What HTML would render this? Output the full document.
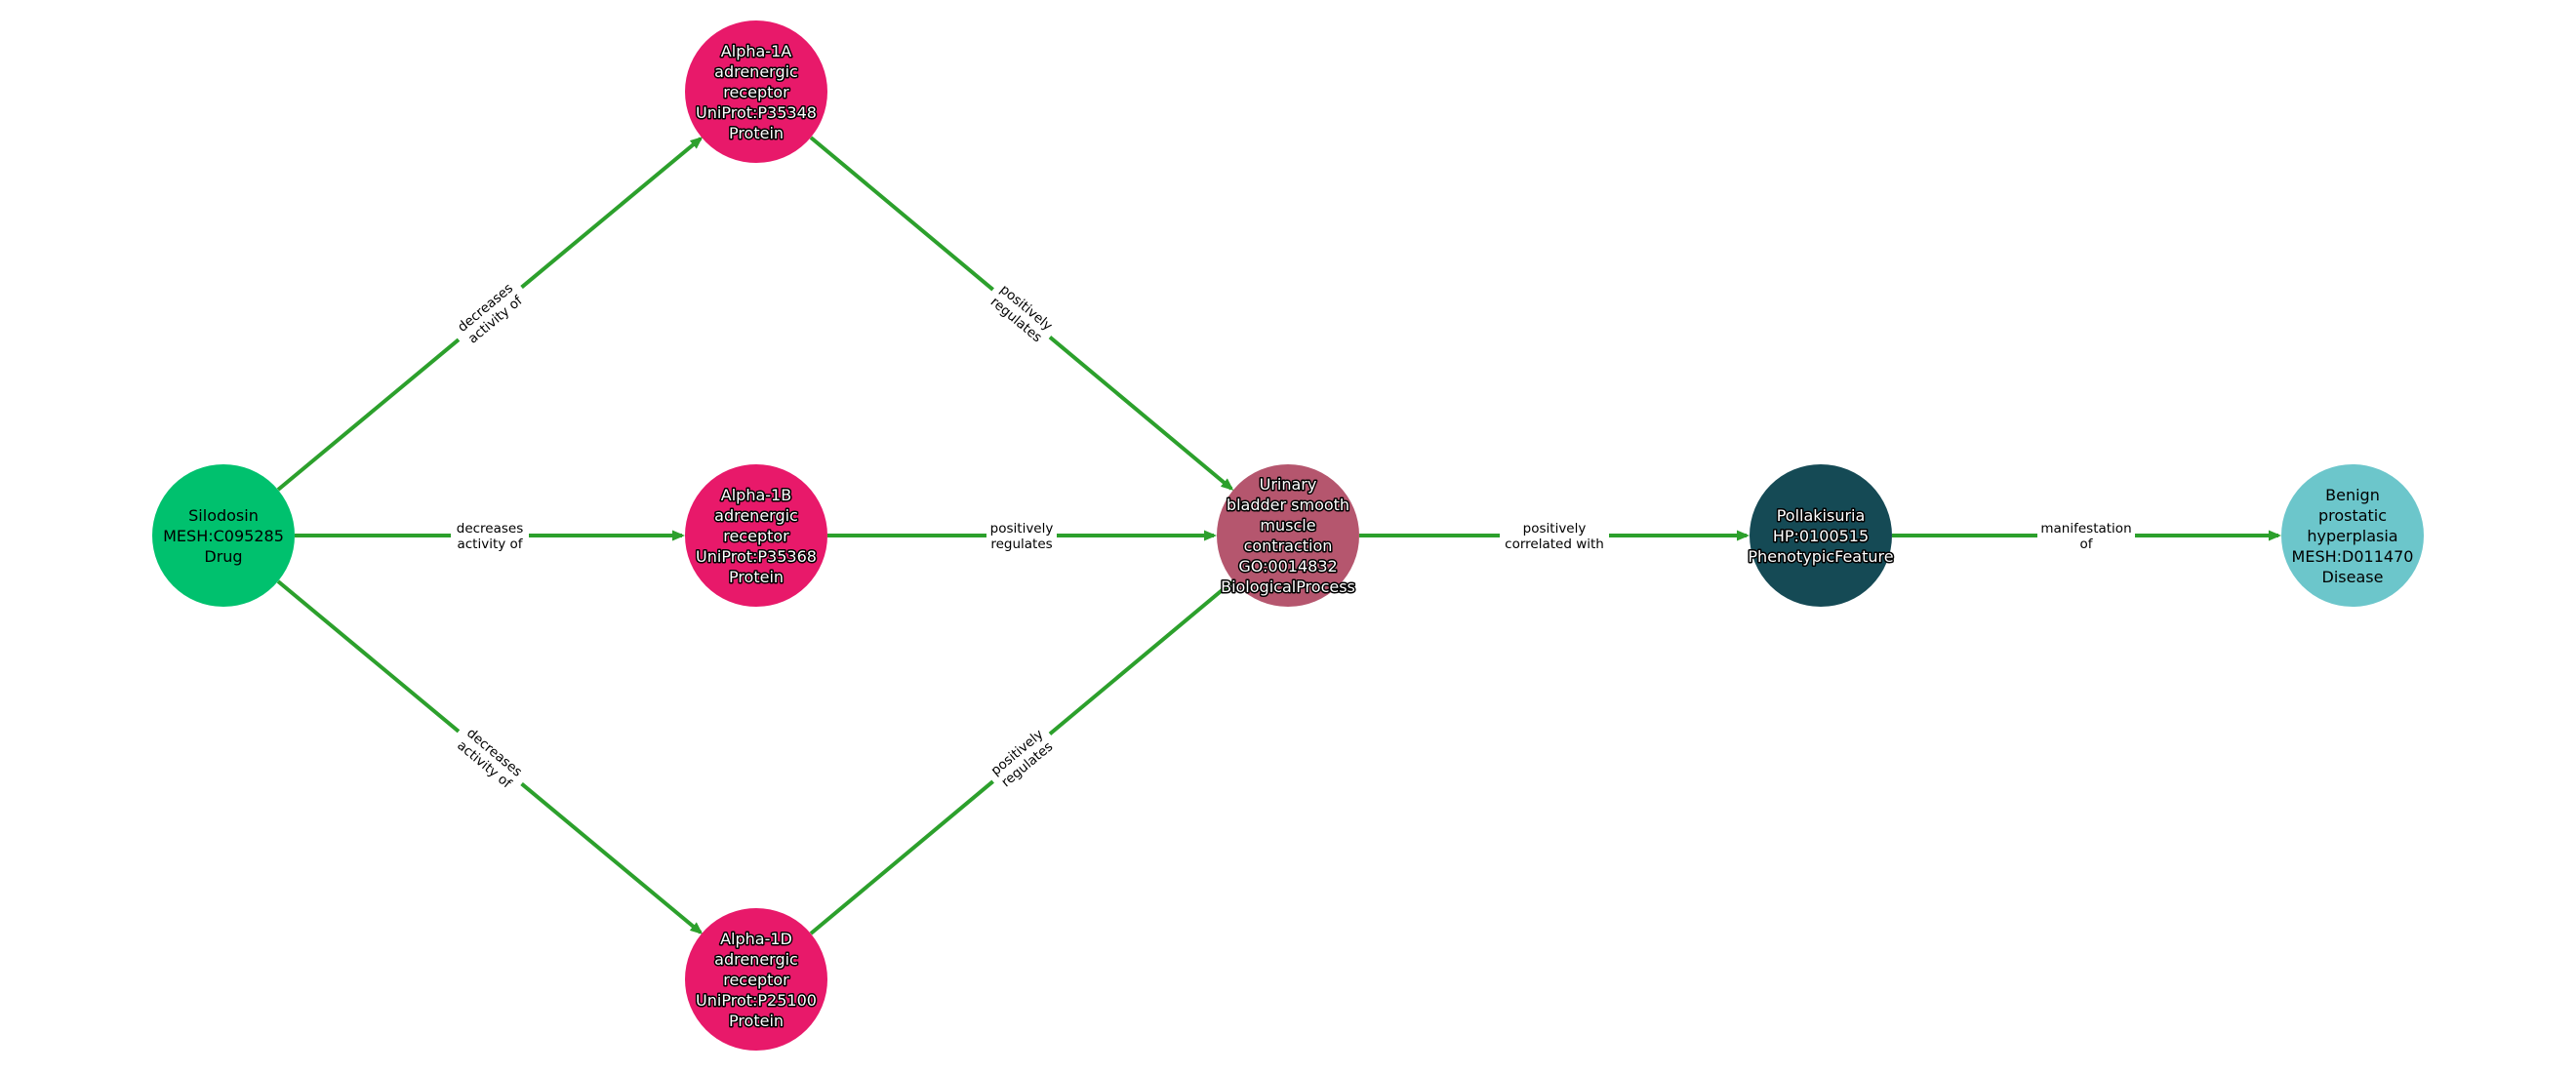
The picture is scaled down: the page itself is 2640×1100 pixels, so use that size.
<!DOCTYPE html>
<html><head><meta charset="utf-8"><style>
html,body{margin:0;padding:0;background:#fff;}
svg{display:block;}
.n{font-family:"DejaVu Sans","Liberation Sans",sans-serif;font-size:16px;text-anchor:middle;}
.w{fill:#fff;stroke:#000;stroke-width:3px;paint-order:stroke;stroke-linejoin:round;}
.b{fill:#000;}
.e{font-family:"DejaVu Sans","Liberation Sans",sans-serif;font-size:13.5px;text-anchor:middle;fill:#000;}
</style></head><body>
<svg width="2640" height="1100" viewBox="0 0 2640 1100" xmlns="http://www.w3.org/2000/svg">
<defs>
<marker id="a" markerWidth="14" markerHeight="14" refX="10" refY="7" orient="auto" markerUnits="userSpaceOnUse">
<path d="M0,1.5 L13,7 L0,12.5 z" fill="#2ca02c"/>
</marker>
</defs>
<g stroke="#2ca02c" stroke-width="4" fill="none" marker-end="url(#a)">
<line x1="285" y1="502" x2="718" y2="142"/>
<line x1="302" y1="549" x2="699" y2="549"/>
<line x1="285" y1="596" x2="718" y2="956"/>
<line x1="831" y1="141" x2="1262" y2="501"/>
<line x1="848" y1="549" x2="1244" y2="549"/>
<line x1="831" y1="957" x2="1262" y2="597"/>
<line x1="1393" y1="549" x2="1790" y2="549"/>
<line x1="1939" y1="549" x2="2335" y2="549"/>
</g>
<g class="e">
<g transform="translate(502,321) rotate(-39.8)"><rect x="-42" y="-18" width="84" height="36" fill="#fff"/><text y="-3">decreases</text><text y="13">activity of</text></g>
<g transform="translate(502,549)"><rect x="-40" y="-18" width="80" height="36" fill="#fff"/><text y="-3">decreases</text><text y="13">activity of</text></g>
<g transform="translate(502,777) rotate(39.8)"><rect x="-42" y="-18" width="84" height="36" fill="#fff"/><text y="-3">decreases</text><text y="13">activity of</text></g>
<g transform="translate(1047,321) rotate(39.8)"><rect x="-38" y="-18" width="76" height="36" fill="#fff"/><text y="-3">positively</text><text y="13">regulates</text></g>
<g transform="translate(1047,549)"><rect x="-36" y="-18" width="72" height="36" fill="#fff"/><text y="-3">positively</text><text y="13">regulates</text></g>
<g transform="translate(1047,777) rotate(-39.8)"><rect x="-38" y="-18" width="76" height="36" fill="#fff"/><text y="-3">positively</text><text y="13">regulates</text></g>
<g transform="translate(1593,549)"><rect x="-56" y="-18" width="112" height="36" fill="#fff"/><text y="-3">positively</text><text y="13">correlated with</text></g>
<g transform="translate(2138,549)"><rect x="-50" y="-18" width="100" height="36" fill="#fff"/><text y="-3">manifestation</text><text y="13">of</text></g>
</g>
<circle cx="229" cy="549" r="73" fill="#00c16e"/>
<circle cx="775" cy="94" r="73" fill="#e8196a"/>
<circle cx="775" cy="549" r="73" fill="#e8196a"/>
<circle cx="775" cy="1004" r="73" fill="#e8196a"/>
<circle cx="1320" cy="549" r="73" fill="#b5566e"/>
<circle cx="1866" cy="549" r="73" fill="#154a55"/>
<circle cx="2411" cy="549" r="73" fill="#6cc6cb"/>
<g class="n">
<text class="b" x="229" y="534">Silodosin</text><text class="b" x="229" y="555">MESH:C095285</text><text class="b" x="229" y="576">Drug</text>
<g class="w">
<text x="775" y="58">Alpha-1A</text><text x="775" y="79">adrenergic</text><text x="775" y="100">receptor</text><text x="775" y="121">UniProt:P35348</text><text x="775" y="142">Protein</text>
<text x="775" y="513">Alpha-1B</text><text x="775" y="534">adrenergic</text><text x="775" y="555">receptor</text><text x="775" y="576">UniProt:P35368</text><text x="775" y="597">Protein</text>
<text x="775" y="968">Alpha-1D</text><text x="775" y="989">adrenergic</text><text x="775" y="1010">receptor</text><text x="775" y="1031">UniProt:P25100</text><text x="775" y="1052">Protein</text>
<text x="1320" y="502">Urinary</text><text x="1320" y="523">bladder smooth</text><text x="1320" y="544">muscle</text><text x="1320" y="565">contraction</text><text x="1320" y="586">GO:0014832</text><text x="1320" y="607">BiologicalProcess</text>
<text x="1866" y="534">Pollakisuria</text><text x="1866" y="555">HP:0100515</text><text x="1866" y="576">PhenotypicFeature</text>
</g>
<text class="b" x="2411" y="513">Benign</text><text class="b" x="2411" y="534">prostatic</text><text class="b" x="2411" y="555">hyperplasia</text><text class="b" x="2411" y="576">MESH:D011470</text><text class="b" x="2411" y="597">Disease</text>
</g>
</svg>
</body></html>
